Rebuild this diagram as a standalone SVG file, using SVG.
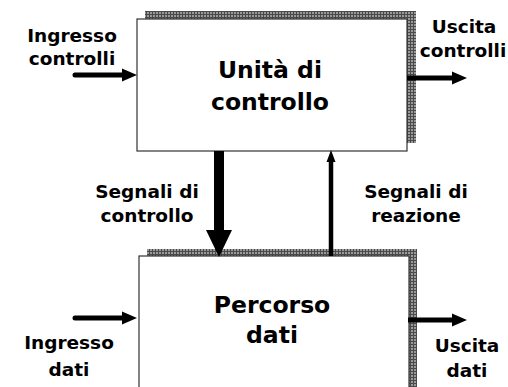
<svg xmlns="http://www.w3.org/2000/svg" width="508" height="387" viewBox="0 0 508 387">
<style>
.box{fill:#fff;stroke:#333;stroke-width:1.2}
.sh{fill:url(#grid)}
.t{font-family:"DejaVu Sans","Liberation Sans",sans-serif;font-weight:bold;fill:#000;text-anchor:middle}
.big{font-size:23.5px}
.sm{font-size:18.5px}
.ar{stroke:#000;fill:none}
</style>
<defs>
<pattern id="grid" width="3" height="3" patternUnits="userSpaceOnUse">
<rect width="3" height="3" fill="#9a9a9a"/>
<path d="M2.5,0V3M0,2.5H3" stroke="#4a4a4a" stroke-width="1"/>
</pattern>
<marker id="ah" markerUnits="userSpaceOnUse" markerWidth="16" markerHeight="14" refX="0" refY="7" orient="auto" viewBox="0 0 16 14">
<path d="M0,0.5 L15,7 L0,13.5 z" fill="#000"/>
</marker>
<marker id="big" markerUnits="userSpaceOnUse" markerWidth="28" markerHeight="28" refX="0" refY="13" orient="auto" viewBox="0 0 28 26">
<path d="M0,0 L27,13 L0,26 z" fill="#000"/>
</marker>
<marker id="small" markerUnits="userSpaceOnUse" markerWidth="13" markerHeight="10" refX="0" refY="4.5" orient="auto" viewBox="0 0 13 9">
<path d="M0,0 L12,4.5 L0,9 z" fill="#000"/>
</marker>
</defs>

<g id="unita-controllo">
<rect class="sh" x="145" y="11" width="271" height="132"/>
<rect class="box" x="137" y="19" width="270" height="132"/>
<text class="t big" x="270" y="78">Unità di</text>
<text class="t big" x="270" y="110">controllo</text>
</g>

<g id="percorso-dati">
<rect class="sh" x="147" y="249" width="270" height="150"/>
<rect class="box" x="139" y="256" width="270" height="150"/>
<text class="t big" x="272" y="313">Percorso</text>
<text class="t big" x="272" y="343">dati</text>
</g>

<g id="connectors">
<line class="ar" x1="75" y1="75" x2="122" y2="75" stroke-width="5" stroke-linecap="round" marker-end="url(#ah)"/>
<line class="ar" x1="407" y1="78" x2="452" y2="78" stroke-width="5" marker-end="url(#ah)"/>
<line class="ar" x1="75" y1="318" x2="122" y2="318" stroke-width="5" stroke-linecap="round" marker-end="url(#ah)"/>
<line class="ar" x1="408" y1="320" x2="452" y2="320" stroke-width="5" marker-end="url(#ah)"/>
<line class="ar" x1="219" y1="151" x2="219" y2="230" stroke-width="10" marker-end="url(#big)"/>
<line class="ar" x1="331" y1="256" x2="331" y2="162" stroke-width="4.5" marker-end="url(#small)"/>
</g>

<g id="labels">
<text class="t sm" x="72" y="42">Ingresso</text>
<text class="t sm" x="72" y="65">controlli</text>
<text class="t sm" x="464" y="33">Uscita</text>
<text class="t sm" x="463" y="57">controlli</text>
<text class="t sm" x="147" y="198">Segnali di</text>
<text class="t sm" x="147" y="222">controllo</text>
<text class="t sm" x="416" y="198">Segnali di</text>
<text class="t sm" x="416" y="222">reazione</text>
<text class="t sm" x="69" y="349">Ingresso</text>
<text class="t sm" x="69" y="376">dati</text>
<text class="t sm" x="467" y="352">Uscita</text>
<text class="t sm" x="467" y="377">dati</text>
</g>
</svg>
